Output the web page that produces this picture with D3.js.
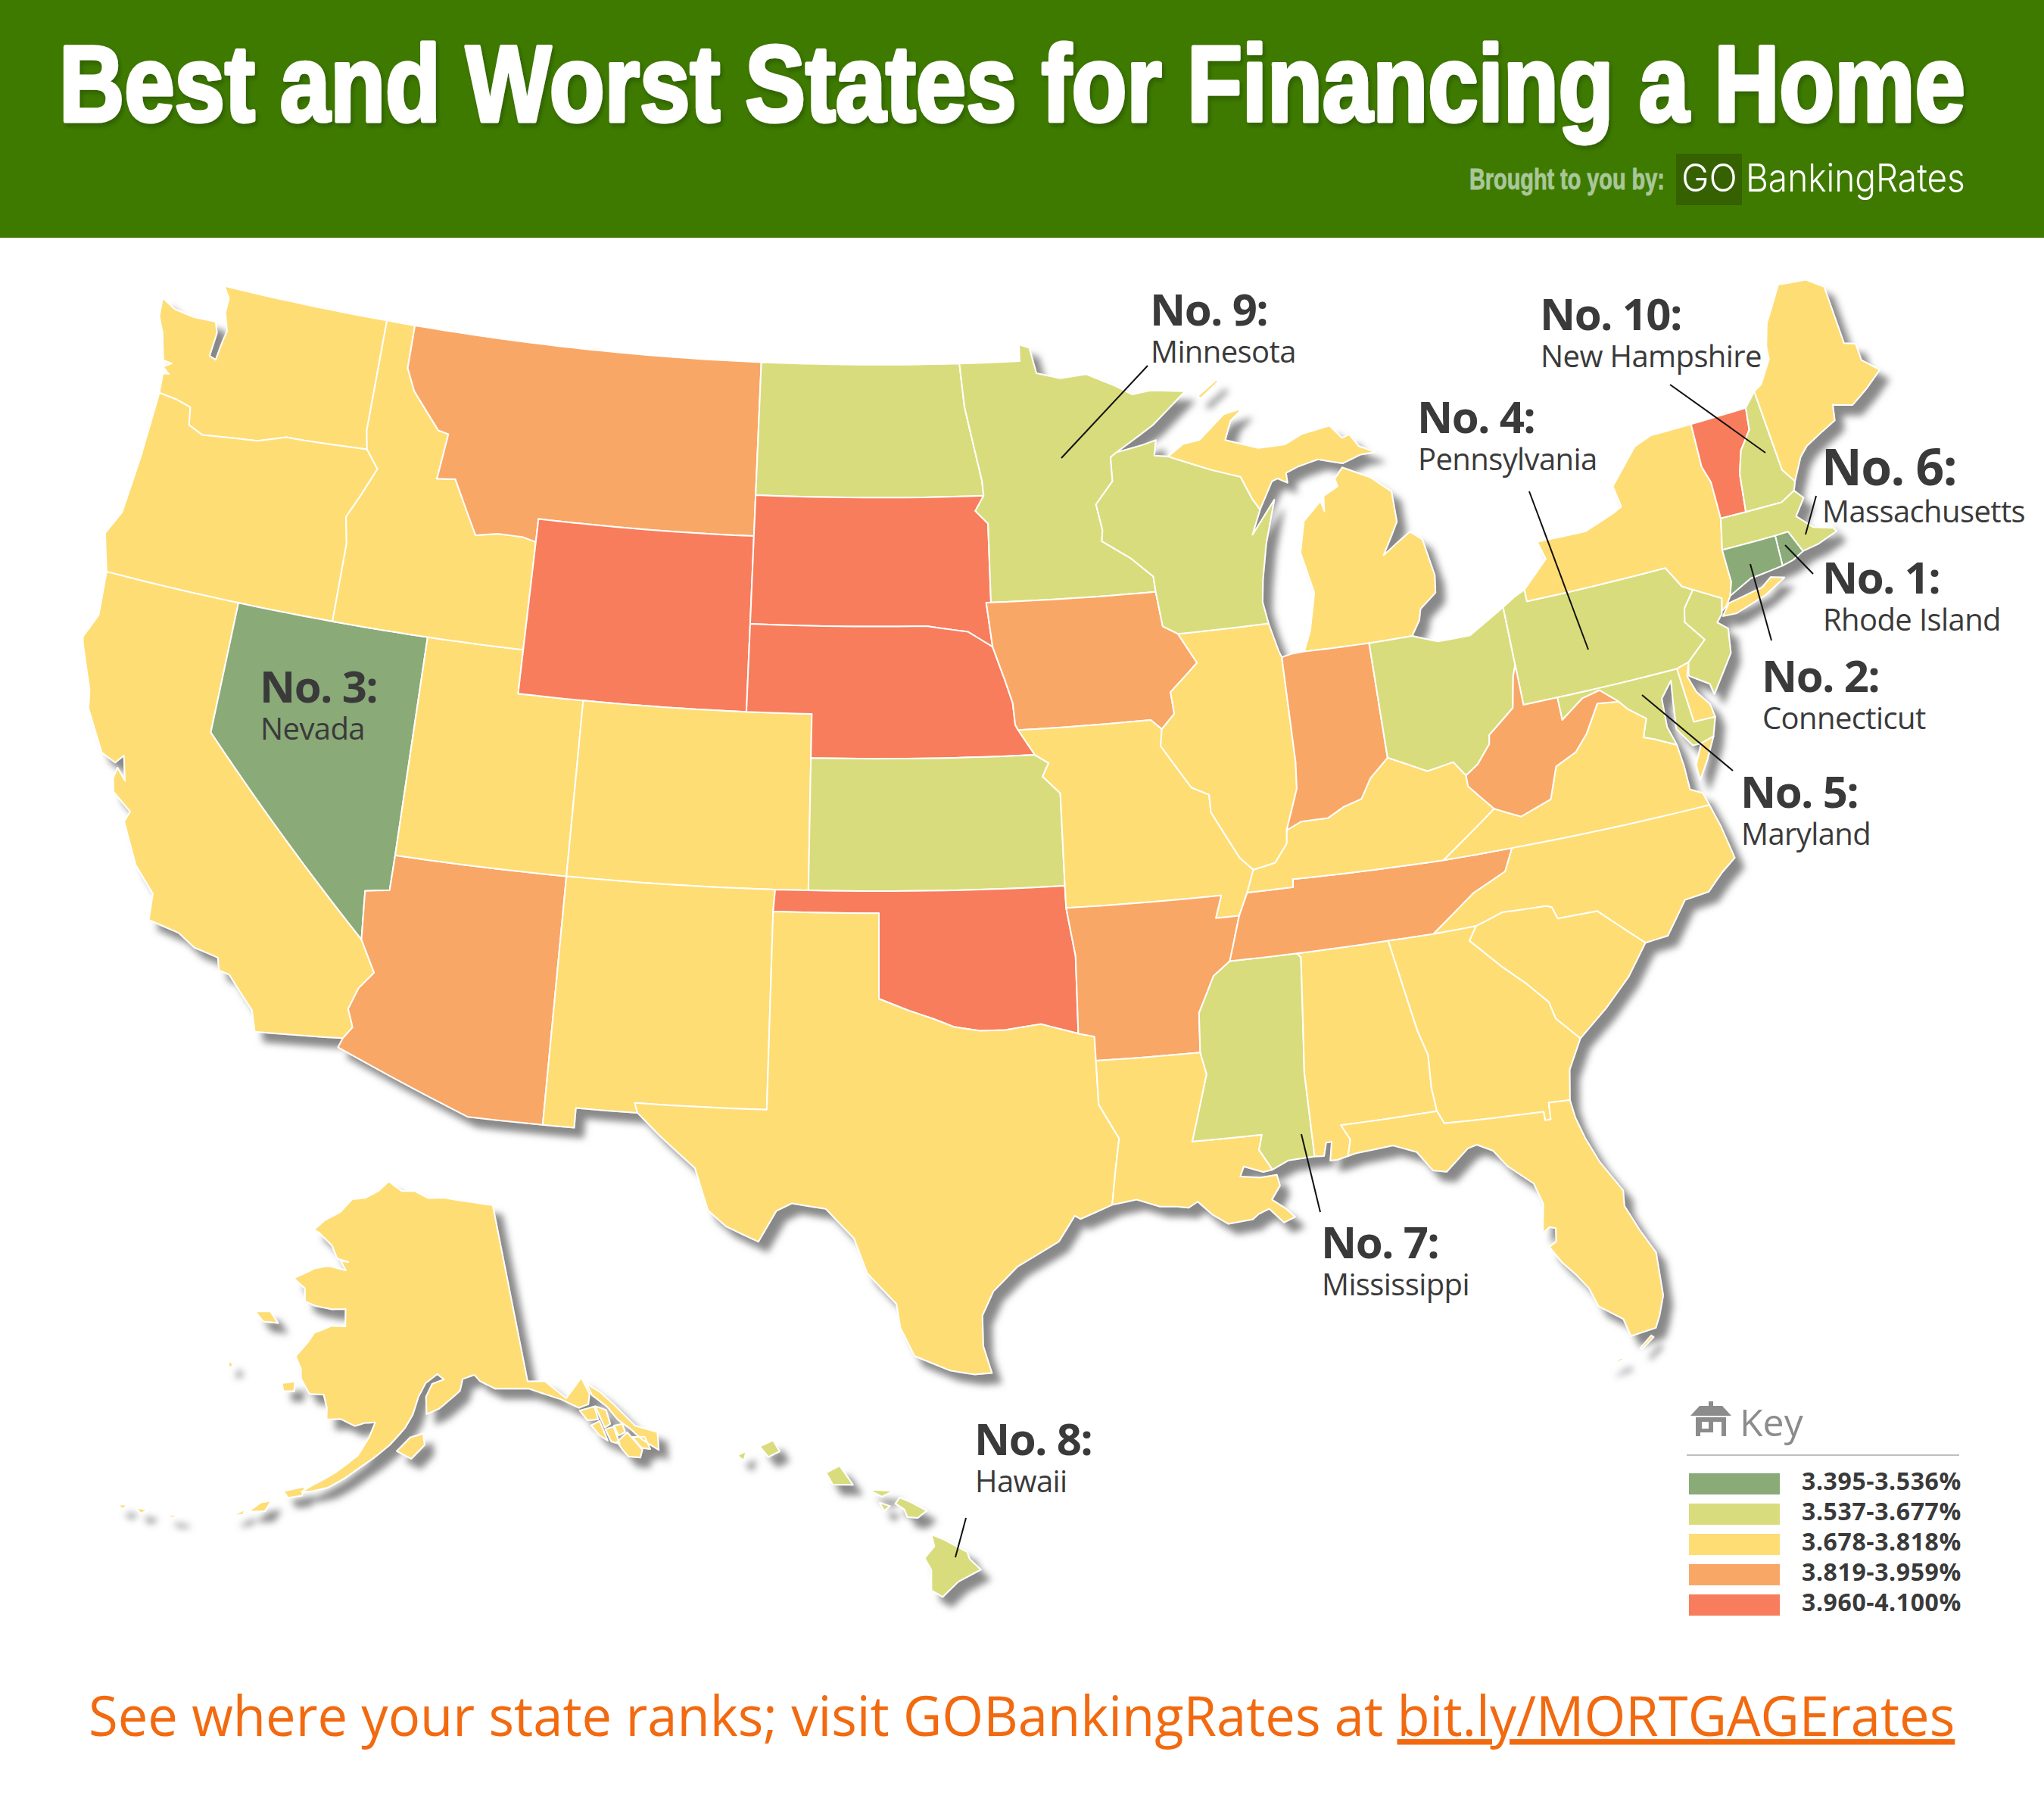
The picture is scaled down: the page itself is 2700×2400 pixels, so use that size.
<!DOCTYPE html>
<html><head><meta charset="utf-8">
<script src="https://cdnjs.cloudflare.com/ajax/libs/d3/7.8.5/d3.min.js"></script>
<style>html,body{margin:0;padding:0;background:#fff}svg{display:block}</style></head>
<body><svg id="c" width="2700" height="2400" viewBox="0 0 2700 2400"></svg>
<script>
// ---- Text and categories
const titleText = "Best and Worst States for Financing a Home";
const legendLabels = ["3.395-3.536%","3.537-3.677%","3.678-3.818%","3.819-3.959%","3.960-4.100%"];
const tierColors = ["#8aaa78","#d9dc7c","#fedd74","#f9a766","#f77d5d"];
const tier0 = ["NV","CT","RI"];
const tier1 = ["ND","MN","WI","KS","OH","PA","NJ","MD","MA","NH","MS","HI"];
const tier3 = ["MT","AZ","IA","AR","TN","IN","WV"];
const tier4 = ["WY","SD","NE","OK","VT"];
const rankNumbers = ["No. 1:","No. 2:","No. 3:","No. 4:","No. 5:","No. 6:","No. 7:","No. 8:","No. 9:","No. 10:"];
const rankStates = ["Rhode Island","Connecticut","Nevada","Pennsylvania","Maryland","Massachusetts","Mississippi","Hawaii","Minnesota","New Hampshire"];

// ---- State outlines, read as [longitude, latitude]
const WA=[[[-124.7,48.38],[-124.2,48.2],[-123.5,48.13],[-122.75,48.15],[-122.62,47.9],[-122.68,47.35],[-122.45,47.3],[-122.38,47.7],[-122.3,48],[-122.5,48.4],[-122.5,48.75],[-122.75,49],[-117.03,49],[-117.04,46.42],[-116.92,46],[-119,45.93],[-119.6,45.92],[-120.5,45.7],[-121.2,45.65],[-122.3,45.55],[-122.8,45.7],[-122.9,46.1],[-123.4,46.2],[-124,46.25],[-124.05,46.7],[-123.85,46.72],[-124.1,46.85],[-123.85,46.97],[-124.15,47],[-124.4,47.6],[-124.65,47.95]]];
const OR=[[[-124,46.25],[-123.4,46.2],[-122.9,46.1],[-122.8,45.7],[-122.3,45.55],[-121.2,45.65],[-120.5,45.7],[-119.6,45.92],[-119,45.93],[-116.92,46],[-116.47,45.6],[-116.85,44.95],[-117.2,44.4],[-117.03,43.8],[-117.03,42],[-120,42],[-124.2,42],[-124.55,42.84],[-124.2,43.4],[-124.07,44.7]]];
const CA=[[[-124.2,42],[-120,42],[-120,39],[-114.63,35],[-114.14,34.3],[-114.5,33.9],[-114.7,33.4],[-114.5,33],[-114.72,32.72],[-117.12,32.53],[-117.3,33],[-118.1,33.7],[-118.4,33.75],[-118.5,34.03],[-119.2,34.15],[-119.7,34.4],[-120.6,34.55],[-120.65,35.15],[-121.3,35.7],[-121.9,36.6],[-121.8,36.85],[-122.4,37.2],[-122.5,37.5],[-122.45,37.75],[-122.15,37.5],[-122.35,38.05],[-122.55,37.85],[-123,38],[-123.7,38.9],[-123.8,39.3],[-124.35,40.3],[-124.4,40.44],[-124.1,41]]];
const NV=[[[-120,42],[-114.04,42],[-114.04,37],[-114.05,36.2],[-114.74,36.1],[-114.63,35],[-120,39]]];
const AZ=[[[-114.63,35],[-114.74,36.1],[-114.05,36.2],[-114.04,37],[-109.05,37],[-109.05,31.33],[-111.07,31.33],[-114.81,32.5],[-114.72,32.72],[-114.5,33],[-114.7,33.4],[-114.5,33.9],[-114.14,34.3]]];
const UT=[[[-114.04,42],[-111.05,42],[-111.05,41],[-109.05,41],[-109.05,37],[-114.04,37]]];
const ID=[[[-117.03,49],[-116.05,49],[-116.05,48],[-115.7,47.5],[-114.7,46.7],[-114.35,46.65],[-114.5,45.6],[-113.9,45.65],[-113.45,45.05],[-113,44.45],[-112.3,44.55],[-111.5,44.55],[-111.05,44.47],[-111.05,42],[-114.04,42],[-117.03,42],[-117.03,43.8],[-117.2,44.4],[-116.85,44.95],[-116.47,45.6],[-116.92,46],[-117.04,46.42]]];
const MT=[[[-116.05,49],[-104.05,49],[-104.05,45.94],[-104.05,45],[-111.05,45],[-111.05,44.47],[-111.5,44.55],[-112.3,44.55],[-113,44.45],[-113.45,45.05],[-113.9,45.65],[-114.5,45.6],[-114.35,46.65],[-114.7,46.7],[-115.7,47.5],[-116.05,48]]];
const WY=[[[-111.05,45],[-104.05,45],[-104.05,43],[-104.05,41],[-109.05,41],[-111.05,41]]];
const CO=[[[-109.05,41],[-104.05,41],[-102.05,41],[-102.05,40],[-102.04,37],[-103,37],[-109.05,37]]];
const NM=[[[-109.05,37],[-103,37],[-103.04,36.5],[-103.04,32],[-106.62,32],[-106.53,31.78],[-108.2,31.78],[-108.2,31.33],[-109.05,31.33]]];
const ND=[[[-104.05,49],[-97.23,49],[-97.1,48],[-96.6,46.3],[-96.56,45.94],[-104.05,45.94]]];
const SD=[[[-104.05,45.94],[-96.56,45.94],[-96.85,45.6],[-96.45,45.3],[-96.45,43.5],[-96.6,43.5],[-96.45,42.49],[-97.2,42.85],[-98.5,43],[-104.05,43],[-104.05,45]]];
const NE=[[[-104.05,43],[-98.5,43],[-97.2,42.85],[-96.45,42.49],[-96.1,41.7],[-95.9,41.2],[-95.85,40.7],[-95.77,40.58],[-95.3,40],[-102.05,40],[-102.05,41],[-104.05,41]]];
const KS=[[[-102.05,40],[-95.3,40],[-94.9,39.8],[-95.1,39.5],[-94.6,39.1],[-94.62,37],[-102.04,37]]];
const OK=[[[-103,37],[-102.04,37],[-94.62,37],[-94.62,36.5],[-94.43,35.4],[-94.48,33.64],[-95.5,33.9],[-96.5,33.8],[-97.2,33.8],[-97.9,33.9],[-98.5,34.1],[-99.2,34.3],[-100,34.56],[-100,36.5],[-103.04,36.5]]];
const TX=[[[-103.04,36.5],[-100,36.5],[-100,34.56],[-99.2,34.3],[-98.5,34.1],[-97.9,33.9],[-97.2,33.8],[-96.5,33.8],[-95.5,33.9],[-94.48,33.64],[-94.04,33.55],[-94.04,33],[-94.04,32],[-93.55,31.2],[-93.7,30.5],[-93.85,29.7],[-94.7,29.42],[-94.85,29.5],[-95.3,28.93],[-96.4,28.4],[-97.05,27.85],[-97.35,27.3],[-97.35,26.6],[-97.15,25.97],[-97.6,25.95],[-98.2,26.05],[-99.1,26.4],[-99.45,27.05],[-99.55,27.6],[-100.3,28.3],[-100.65,29.1],[-101.4,29.77],[-102.3,29.88],[-102.7,29.7],[-103.15,28.98],[-104,29.3],[-104.5,29.65],[-104.9,30.6],[-105.9,31.3],[-106.53,31.78],[-106.62,32],[-103.04,32]]];
const MN=[[[-97.23,49],[-95.15,49],[-95.15,49.38],[-94.8,49.3],[-94.6,48.7],[-93.8,48.55],[-92.9,48.6],[-92,48.3],[-91.4,48.05],[-90.75,48.1],[-89.6,48],[-90.8,47.3],[-92.1,46.75],[-92.3,46.65],[-92.3,46.1],[-92.9,45.6],[-92.75,45],[-92.8,44.75],[-91.9,44.3],[-91.25,43.85],[-91.22,43.5],[-96.45,43.5],[-96.45,45.3],[-96.85,45.6],[-96.56,45.94],[-96.6,46.3],[-97.1,48]]];
const IA=[[[-96.6,43.5],[-96.45,43.5],[-91.22,43.5],[-91.1,42.7],[-90.65,42.5],[-90.15,41.8],[-91.05,41.2],[-91,40.7],[-91.42,40.38],[-91.73,40.61],[-95.77,40.58],[-95.85,40.7],[-95.9,41.2],[-96.1,41.7],[-96.45,42.49]]];
const MO=[[[-95.77,40.58],[-91.73,40.61],[-91.42,40.38],[-91.5,40],[-90.7,39],[-90.2,38.8],[-90.2,38.4],[-89.5,37.3],[-89.15,37],[-89.4,36.5],[-89.7,36],[-90.37,36],[-90.15,36.5],[-94.62,36.5],[-94.62,37],[-94.6,39.1],[-95.1,39.5],[-94.9,39.8],[-95.3,40]]];
const AR=[[[-94.62,36.5],[-90.15,36.5],[-90.37,36],[-89.7,36],[-90.1,35],[-90.6,34.7],[-91.1,33.9],[-91.17,33],[-94.04,33],[-94.04,33.55],[-94.48,33.64],[-94.43,35.4]]];
const LA=[[[-94.04,33],[-91.17,33],[-91.05,32.5],[-91.6,31],[-89.73,31],[-89.85,30.66],[-89.55,30.18],[-89.8,30.15],[-90.3,30.32],[-90.42,30.1],[-89.9,30.03],[-89.45,30.05],[-89.4,29.8],[-89.65,29.5],[-89.3,29.25],[-89.1,29.05],[-89.4,28.95],[-89.75,29.3],[-90.05,29.2],[-90.2,29.1],[-90.85,29.05],[-91.25,29.3],[-91.6,29.62],[-91.85,29.5],[-92.15,29.55],[-92.6,29.58],[-93.2,29.78],[-93.85,29.7],[-93.7,30.5],[-93.55,31.2],[-94.04,32]]];
const MS=[[[-90.1,35],[-88.2,35],[-88.1,34.9],[-88.4,32.3],[-88.4,30.37],[-89.1,30.35],[-89.55,30.18],[-89.85,30.66],[-89.73,31],[-91.6,31],[-91.05,32.5],[-91.17,33],[-91.1,33.9],[-90.6,34.7]]];
const AL=[[[-88.2,35],[-85.6,35],[-85.18,32.87],[-85,32.3],[-85.05,31.55],[-85,31],[-87.6,31],[-87.4,30.65],[-87.52,30.28],[-87.8,30.23],[-88,30.23],[-87.9,30.65],[-88.05,30.65],[-88.15,30.35],[-88.4,30.37],[-88.4,32.3],[-88.1,34.9]]];
const TN=[[[-90.1,35],[-89.7,36],[-89.4,36.5],[-88.07,36.5],[-88.05,36.68],[-83.68,36.6],[-81.68,36.59],[-82,36.1],[-83,35.75],[-84.32,34.99],[-85.6,35],[-88.2,35]]];
const KY=[[[-89.4,36.5],[-89.15,37],[-88.5,37.1],[-88.1,37.5],[-88.05,37.8],[-87.6,37.95],[-86.8,37.95],[-86.3,38.15],[-85.75,38.27],[-85.4,38.7],[-84.8,39.1],[-84.3,38.9],[-83.7,38.65],[-82.9,38.75],[-82.6,38.4],[-82.6,38.15],[-81.97,37.54],[-83.68,36.6],[-88.05,36.68],[-88.07,36.5]]];
const IL=[[[-91.42,40.38],[-91,40.7],[-91.05,41.2],[-90.15,41.8],[-90.65,42.5],[-87.8,42.5],[-87.6,41.85],[-87.53,41.7],[-87.53,39.3],[-87.6,38.7],[-88.05,37.8],[-88.1,37.5],[-88.5,37.1],[-89.15,37],[-89.5,37.3],[-90.2,38.4],[-90.2,38.8],[-90.7,39],[-91.5,40]]];
const WI=[[[-92.1,46.75],[-91.2,46.87],[-90.75,46.95],[-90.85,46.6],[-90.4,46.55],[-89,46.13],[-88.1,45.9],[-87.8,45.35],[-87.6,45.1],[-87.95,44.55],[-87.6,44.85],[-87.1,45.28],[-87.3,44.85],[-87.55,44.3],[-87.8,43.5],[-87.9,43],[-87.8,42.5],[-90.65,42.5],[-91.1,42.7],[-91.22,43.5],[-91.25,43.85],[-91.9,44.3],[-92.8,44.75],[-92.75,45],[-92.9,45.6],[-92.3,46.1],[-92.3,46.65]]];
const MI=[[[-86.82,41.76],[-84.8,41.73],[-83.45,41.73],[-83.15,42.05],[-83.05,42.3],[-82.5,42.6],[-82.42,43],[-82.6,43.85],[-82.95,44.07],[-83.35,43.9],[-83.9,43.65],[-83.55,44.05],[-83.3,44.35],[-83.3,45.05],[-83.9,45.45],[-84.75,45.78],[-85.05,45.55],[-85,45.37],[-85.5,45.2],[-85.55,44.85],[-85.62,45.1],[-86.25,44.7],[-86.5,44],[-86.25,43.05],[-86.55,42.2]],
 [[-90.4,46.55],[-89,46.13],[-88.1,45.9],[-87.8,45.35],[-87.6,45.1],[-87.1,45.7],[-86.9,45.75],[-86.6,45.62],[-86.6,45.85],[-86.2,45.95],[-85.5,46.05],[-84.72,45.87],[-84.1,46],[-83.6,46],[-84.1,46.2],[-84.35,46.5],[-84.6,46.45],[-84.95,46.77],[-85.9,46.68],[-86.5,46.5],[-87.4,46.5],[-88.45,46.78],[-88.2,47.2],[-87.75,47.45],[-88.4,47.37],[-89.3,46.85],[-89.85,46.8]],
 [[-89.2,47.85],[-88.5,48.18],[-88.45,48.13],[-89.1,47.8]]];
const IN=[[[-87.53,41.7],[-87.2,41.75],[-86.82,41.76],[-84.8,41.73],[-84.8,39.1],[-85.4,38.7],[-85.75,38.27],[-86.3,38.15],[-86.8,37.95],[-87.6,37.95],[-88.05,37.8],[-87.6,38.7],[-87.53,39.3]]];
const OH=[[[-84.8,41.73],[-83.45,41.73],[-82.7,41.5],[-81.7,41.5],[-80.52,41.98],[-80.52,40.64],[-80.65,40.4],[-80.85,39.7],[-81.7,39.2],[-81.75,39],[-82.2,38.6],[-82.6,38.4],[-82.9,38.75],[-83.7,38.65],[-84.3,38.9],[-84.8,39.1]]];
const PA=[[[-80.52,41.98],[-80.08,42.17],[-79.76,42.27],[-79.76,42],[-75.35,42],[-75,41.5],[-74.7,41.36],[-75.1,41],[-75.2,40.7],[-74.75,40.2],[-75.4,39.8],[-75.79,39.72],[-79.48,39.72],[-80.52,39.72],[-80.52,40.64]]];
const NY=[[[-79.76,42.27],[-78.9,42.85],[-79.05,43.27],[-77.5,43.25],[-76.5,43.5],[-76.2,43.6],[-76.3,44.1],[-75.3,44.85],[-74.7,45],[-73.35,45],[-73.4,44],[-73.25,43.6],[-73.27,42.75],[-73.5,42.05],[-73.5,41.3],[-73.65,41],[-73.85,40.8],[-74.02,40.72],[-73.92,41],[-74.7,41.36],[-75,41.5],[-75.35,42],[-79.76,42]],[[-74.03,40.6],[-73.75,40.85],[-72.65,40.98],[-72.3,41.15],[-71.9,41.05],[-72.6,40.8],[-73.6,40.58]]];
const NJ=[[[-74.7,41.36],[-73.92,41],[-74.05,40.65],[-74.25,40.5],[-73.98,40.3],[-74.1,39.75],[-74.9,38.95],[-74.95,39.2],[-75.5,39.5],[-75.4,39.8],[-74.75,40.2],[-75.2,40.7],[-75.1,41]]];
const DE=[[[-75.79,39.72],[-75.4,39.8],[-75.55,39.5],[-75.4,39.1],[-75.1,38.75],[-75.05,38.45],[-75.7,38.46]]];
const MD=[[[-79.48,39.72],[-75.79,39.72],[-75.7,38.46],[-75.05,38.45],[-75.25,38.03],[-75.65,37.95],[-75.9,37.95],[-76.25,38.4],[-76.15,39],[-76.05,39.5],[-76.45,39.15],[-76.5,38.5],[-76.35,38.05],[-76.95,38.3],[-77.25,38.4],[-77.04,38.8],[-77.5,39.1],[-77.72,39.32],[-78.2,39.67],[-78.75,39.58],[-79.48,39.2]]];
const VA=[[[-83.68,36.6],[-81.97,37.54],[-81.25,37.25],[-80.3,37.5],[-79.95,38.2],[-79.3,38.42],[-78.87,38.77],[-78.35,39.39],[-77.72,39.32],[-77.5,39.1],[-77.04,38.8],[-77.25,38.4],[-76.95,38.3],[-76.35,38.05],[-76.3,37.55],[-76.3,37],[-75.97,36.85],[-75.87,36.55],[-81.68,36.59]],[[-75.65,37.95],[-75.25,38.03],[-75.6,37.55],[-75.95,37.15],[-75.95,37.5]]];
const WV=[[[-82.6,38.15],[-82.6,38.4],[-82.2,38.6],[-81.75,39],[-81.7,39.2],[-80.85,39.7],[-80.65,40.4],[-80.52,40.64],[-80.52,39.72],[-79.48,39.72],[-79.48,39.2],[-78.75,39.58],[-78.2,39.67],[-77.72,39.32],[-78.35,39.39],[-78.87,38.77],[-79.3,38.42],[-79.95,38.2],[-80.3,37.5],[-81.25,37.25],[-81.97,37.54]]];
const NC=[[[-84.32,34.99],[-83,35.75],[-82,36.1],[-81.68,36.59],[-75.87,36.55],[-75.7,36],[-75.55,35.25],[-76,35],[-76.5,34.65],[-77.2,34.6],[-77.9,33.9],[-78.55,33.86],[-79.67,34.8],[-80.8,34.82],[-80.9,35.1],[-81.05,35.15],[-82.3,35.2],[-83.1,35]]];
const SC=[[[-83.1,35],[-82.3,35.2],[-81.05,35.15],[-80.9,35.1],[-80.8,34.82],[-79.67,34.8],[-78.55,33.86],[-79.2,33.2],[-80,32.6],[-80.85,32.05],[-81.4,32.6],[-81.5,33],[-82,33.5],[-82.6,34],[-83.35,34.7]]];
const GA=[[[-85.6,35],[-84.32,34.99],[-83.1,35],[-83.35,34.7],[-82.6,34],[-82,33.5],[-81.5,33],[-81.4,32.6],[-80.85,32.05],[-81.3,31.4],[-81.45,30.72],[-82.02,30.75],[-82.05,30.37],[-82.2,30.37],[-82.2,30.57],[-84.86,30.7],[-85,31],[-85.05,31.55],[-85,32.3],[-85.18,32.87]]];
const FL=[[[-87.6,31],[-85,31],[-84.86,30.7],[-82.2,30.57],[-82.2,30.37],[-82.05,30.37],[-82.02,30.75],[-81.45,30.72],[-81.4,30.3],[-81.25,29.8],[-81,29.2],[-80.55,28.45],[-80.6,28.1],[-80.35,27.5],[-80.05,26.9],[-80.1,25.9],[-80.3,25.45],[-80.45,25.2],[-81.1,25.13],[-81.2,25.55],[-81.75,25.95],[-81.9,26.4],[-82.15,26.75],[-82.45,27.1],[-82.7,27.5],[-82.5,27.6],[-82.45,27.9],[-82.6,27.95],[-82.8,27.85],[-82.65,28.5],[-82.8,29],[-83.4,29.5],[-83.7,29.9],[-84.1,30.1],[-84.35,30.05],[-85,29.6],[-85.35,29.68],[-85.7,30.15],[-86.3,30.38],[-87.3,30.32],[-87.52,30.28],[-87.4,30.65]],
 [[-80.55,25],[-80.9,24.78],[-80.92,24.82],[-80.6,25.05]],[[-81.8,24.55],[-81.4,24.63],[-81.45,24.68]]];
const VT=[[[-73.35,45],[-71.5,45],[-71.6,44.5],[-72.05,44.1],[-72.3,43.6],[-72.46,42.73],[-73.27,42.75],[-73.25,43.6],[-73.4,44]]];
const NH=[[[-71.5,45],[-71.08,45.3],[-70.98,43.4],[-70.7,43.07],[-70.82,42.87],[-71.3,42.7],[-72.46,42.73],[-72.3,43.6],[-72.05,44.1],[-71.6,44.5]]];
const ME=[[[-71.08,45.3],[-70.8,45.4],[-70.3,45.9],[-70.25,46.2],[-70,46.7],[-69.23,47.46],[-69,47.43],[-68.3,47.36],[-67.8,47.07],[-67.8,45.7],[-67.45,45.6],[-67.45,45.2],[-67,44.85],[-67.6,44.55],[-68.2,44.3],[-68.8,44.45],[-68.9,44.1],[-69.4,43.95],[-70,43.75],[-70.3,43.55],[-70.7,43.07],[-70.98,43.4]]];
const MA=[[[-73.5,42.05],[-73.27,42.75],[-72.46,42.73],[-71.3,42.7],[-70.82,42.87],[-70.6,42.65],[-71,42.3],[-70.6,41.95],[-70.05,41.8],[-70.2,42.08],[-69.95,41.7],[-70.6,41.55],[-71.12,41.5],[-71.38,42.02],[-71.8,42.02]]];
const RI=[[[-71.8,42.02],[-71.38,42.02],[-71.12,41.5],[-71.5,41.37],[-71.85,41.32]]];
const CT=[[[-73.5,42.05],[-71.8,42.02],[-71.85,41.32],[-72.9,41.25],[-73.65,41],[-73.5,41.3]]];
const AK=[[[-141,69.65],[-144,70],[-148,70.4],[-150.5,70.45],[-152.5,70.85],[-154.5,70.85],[-156.6,71.35],[-158,70.85],[-160,70.4],[-162,70.25],[-163.5,69.5],[-165.5,68.95],[-166.8,68.35],[-166,68.25],[-164,67.7],[-163,67.05],[-161.5,66.95],[-162.5,66.95],[-161.7,66.5],[-163.7,66.6],[-164.5,66.55],[-165.8,66.35],[-168.1,65.65],[-166.5,65.25],[-166.2,64.6],[-164.9,64.45],[-162.8,64.4],[-161.2,64.5],[-161,63.6],[-162.6,63.55],[-164.5,63.05],[-165,62.55],[-166.1,61.7],[-165.3,61.1],[-165.1,60.6],[-164,59.9],[-162.5,59.95],[-162,59.3],[-161.9,58.7],[-160.5,58.8],[-159,58.5],[-158,58.7],[-157,58.75],[-157.5,58],[-158.5,57],[-160.5,56],[-162.5,55.2],[-163.4,54.8],[-162.5,54.9],[-161,55.2],[-159.5,55.8],[-158.2,56.4],[-157,56.9],[-155.5,57.6],[-154,58.5],[-153.2,59.2],[-152.6,60.1],[-151.8,60.8],[-150.5,61.25],[-149.8,60.95],[-151.1,60.75],[-151.8,60.1],[-151.8,59.2],[-150.5,59.45],[-149,60],[-148.2,60.3],[-147.8,60.9],[-146.5,61.05],[-146,60.7],[-144.5,60.2],[-142,60],[-141,59.9],[-139.8,59.55],[-138,59],[-136.5,58.35],[-135.5,58.4],[-135.1,58.9],[-135.4,59.7],[-135.1,59.5],[-134.9,58.8],[-133.8,58],[-133.2,57.2],[-132.3,56.5],[-131.6,55.8],[-130.5,55],[-130.05,55.9],[-131.8,56.6],[-133.1,58],[-134,58.8],[-135,59.4],[-135.5,59.8],[-137.5,59],[-139.2,60.1],[-141,60.3]],
 [[-154.8,57.3],[-153.5,58],[-152.2,58.2],[-152.1,57.6],[-153.4,56.9]],[[-167,60.2],[-165.7,60.4],[-165.6,59.9],[-166.7,59.8]],[[-171.7,63.5],[-170,63.7],[-168.8,63.2],[-170.5,63.1]],
 [[-165,54.7],[-163.1,55.1],[-163.3,54.6],[-164.5,54.4]],[[-166.8,53.9],[-165.9,54.1],[-166.3,53.5],[-167.7,53.3]],[[-169,52.9],[-168,53.4],[-168.1,53.1]],[[-174.5,52.1],[-173.2,52.2],[-173.9,52]],[[-177,51.9],[-176,52],[-176.5,51.7]],[[-178.6,51.7],[-177.8,51.9],[-178,51.6]],[[-173,60.7],[-172.4,60.5],[-172.9,60.3]],
 [[-136.5,58.2],[-135,58.2],[-135,57.5],[-136,57.6]],[[-135.8,57.3],[-134.9,57.4],[-134.7,56.3],[-135.3,56.7]],[[-134.9,58.2],[-134,57.85],[-134,57.1],[-134.6,57]],[[-134.6,56.9],[-133.8,56.9],[-133.7,55.95],[-134.4,56.2]],[[-133.7,56.95],[-132.9,56.9],[-132.9,56.45],[-133.6,56.4]],[[-133.9,56.1],[-132.7,56.4],[-131.9,55.3],[-132.3,54.95],[-133.3,55.2],[-133.6,55.6]],[[-132.4,56.1],[-131.3,55.9],[-131.2,55.2],[-131.9,55.4]]];
const HI=[[[-155.9,20.25],[-155.6,20.13],[-155.1,19.87],[-155.05,19.73],[-154.8,19.5],[-155.3,19.25],[-155.65,18.93],[-155.9,19.07],[-155.9,19.5],[-156.05,19.75],[-155.83,20]],[[-156.7,20.9],[-156.6,21.03],[-156.35,20.93],[-156,20.75],[-156.2,20.6],[-156.43,20.62],[-156.5,20.78]],[[-157.3,21.2],[-156.75,21.17],[-157,21.05]],[[-157.05,20.92],[-156.82,20.85],[-156.95,20.75]],[[-158.25,21.55],[-157.95,21.7],[-157.65,21.3],[-158.1,21.3]],[[-159.75,22.1],[-159.45,22.23],[-159.3,22],[-159.55,21.88]],[[-160.25,21.9],[-160.05,22],[-160.1,21.8]]];

const outlines = {WA,OR,CA,NV,AZ,UT,ID,MT,WY,CO,NM,ND,SD,NE,KS,OK,TX,MN,IA,MO,AR,LA,MS,AL,TN,KY,IL,WI,MI,IN,OH,PA,NY,NJ,DE,MD,VA,WV,NC,SC,GA,FL,VT,NH,ME,MA,RI,CT,AK,HI};

// ---- Layout
const svg = d3.select("#c");
const lowerP = d3.geoConicEqualArea().parallels([29.5,45.5]).rotate([100,0]).center([0,0]).scale(3309).translate([1161,3216]);
const akP = d3.geoConicEqualArea().parallels([55,65]).rotate([154,0]).center([0,0]).scale(1455).translate([535,3234]);
const hiP = d3.geoConicEqualArea().parallels([8,18]).rotate([157,0]).center([0,0]).scale(3600).translate([1165,3296]);
const paths = {lower:d3.geoPath(lowerP), AK:d3.geoPath(akP), HI:d3.geoPath(hiP)};

function densify(ring){
  const out=[];
  for(let i=0;i<ring.length;i++){
    const a=ring[i], b=ring[(i+1)%ring.length];
    const n=Math.max(1,Math.ceil(Math.max(Math.abs(b[0]-a[0]),Math.abs(b[1]-a[1]))/0.5));
    for(let j=0;j<n;j++) out.push([a[0]+(b[0]-a[0])*j/n,a[1]+(b[1]-a[1])*j/n]);
  }
  out.push(out[0].slice());
  return out;
}
function feature(code){
  const polys=outlines[code].map(r=>{
    let ring=densify(r);
    if(d3.geoArea({type:"Polygon",coordinates:[ring]})>2*Math.PI) ring=ring.slice().reverse();
    return [ring];
  });
  return {type:"Feature",id:code,properties:{},geometry:{type:"MultiPolygon",coordinates:polys}};
}
function tierOf(c){return tier0.includes(c)?0:tier1.includes(c)?1:tier3.includes(c)?3:tier4.includes(c)?4:2;}
// Squeeze a text to a measured width through a transform, so its real box matches what is drawn
function fitText(sel,x,y,width){
  const w=sel.node().getComputedTextLength();
  sel.attr("transform",`translate(${x},${y}) scale(${width/w},1)`);
  return sel;
}

const defs=svg.append("defs");
const f=defs.append("filter").attr("id","shadow").attr("x","-5%").attr("y","-5%").attr("width","115%").attr("height","115%");
f.append("feDropShadow").attr("dx",12).attr("dy",13).attr("stdDeviation",5).attr("flood-color","#7c7c7c").attr("flood-opacity",0.9);
const tf=defs.append("filter").attr("id","tshadow").attr("x","-2%").attr("y","-10%").attr("width","104%").attr("height","125%");
tf.append("feDropShadow").attr("dx",3).attr("dy",4).attr("stdDeviation",3).attr("flood-color","#1d3d00").attr("flood-opacity",0.45);

// Header
svg.append("rect").attr("width",2700).attr("height",2400).attr("fill","#fff");
svg.append("rect").attr("width",2700).attr("height",314).attr("fill","#3f7a00");
fitText(svg.append("text").text(titleText)
  .attr("font-family","'Liberation Sans Narrow','Liberation Sans',sans-serif").attr("font-weight",700).attr("font-size",142)
  .attr("fill","#fff").attr("stroke","#fff").attr("stroke-width",5).attr("stroke-linejoin","round").attr("filter","url(#tshadow)"),78,160,2518);
fitText(svg.append("text").text("Brought to you by:")
  .attr("font-family","'Liberation Sans Narrow','Liberation Sans',sans-serif").attr("font-weight",700).attr("font-size",38).attr("fill","#a9c79a").attr("stroke","#a9c79a").attr("stroke-width",0.9),1941,250,258);
svg.append("rect").attr("x",2214).attr("y",203).attr("width",87).attr("height",68).attr("fill","#356100");
fitText(svg.append("text").text("GO")
  .attr("font-family","Inter,Roboto,sans-serif").attr("font-weight",300).attr("font-size",51).attr("fill","#fff"),2221,253,74);
fitText(svg.append("text").text("BankingRates")
  .attr("font-family","Inter,Roboto,sans-serif").attr("font-weight",300).attr("font-size",51).attr("fill","#fff"),2306,253,290);

// Map
const g=svg.append("g").attr("filter","url(#shadow)");
g.selectAll("path").data(Object.keys(outlines).map(feature)).join("path")
  .attr("d",d=>(paths[d.id]||paths.lower)(d))
  .attr("fill",d=>tierColors[tierOf(d.id)])
  .attr("stroke","#fff").attr("stroke-width",2).attr("stroke-linejoin","round");

// Leader lines
const leaderLines=[[2358,720,2395,758],[2312,745,2340,846],[2020,649,2098,858],[2169,918,2289,1018],[2399,655,2385,706],[1719,1498,1744,1601],[1276,2005,1262,2057],[1516,483,1402,605],[2206,508,2332,598]];
svg.append("g").selectAll("line").data(leaderLines).join("line")
  .attr("x1",d=>d[0]).attr("y1",d=>d[1]).attr("x2",d=>d[2]).attr("y2",d=>d[3]).attr("stroke","#111").attr("stroke-width",2);

// Rank labels
const labelX=[2407,2327,343,1872,2299,2406,1745,1287,1519,2034];
const labelY=[784,914,928,572,1067,641,1662,1922,430,436];
const labelSize=[58,58,58,58,58,66,58,58,58,58];
const labelG=svg.append("g").attr("font-family","'Open Sans',sans-serif").attr("fill","#3a3a3a");
rankNumbers.forEach((n,i)=>{
  labelG.append("text").text(n).attr("x",labelX[i]).attr("y",labelY[i]).attr("font-weight",700).attr("font-size",labelSize[i]).attr("letter-spacing",-1.5);
  labelG.append("text").text(rankStates[i]).attr("x",labelX[i]+1).attr("y",labelY[i]+49).attr("font-size",40).attr("letter-spacing",-0.6);
});

// Legend
const key=svg.append("g");
key.append("path").attr("transform","translate(2233,1851)").attr("fill","#8c8c8c")
  .attr("d","M0 19 L12 6 L24 6 L24 0 L30 0 L30 6 L42 6 L54 19 Z M7 21 H47 V46 H41 V27 H30 V41 H13 V46 H7 Z M15 27 V36 H24 V27 Z");
key.append("text").text("Key").attr("x",2298).attr("y",1897).attr("font-family","'Open Sans',sans-serif").attr("font-size",50).attr("fill","#8c8c8c");
key.append("line").attr("x1",2228).attr("x2",2588).attr("y1",1922).attr("y2",1922).attr("stroke","#aaa").attr("stroke-width",1.5);
key.selectAll("rect").data(legendLabels).join("rect").attr("x",2231).attr("y",(d,i)=>1946+i*40).attr("width",120).attr("height",28).attr("fill",(d,i)=>tierColors[i]);
key.selectAll("text.k").data(legendLabels).join("text").attr("class","k").text(d=>d).attr("x",2380).attr("y",(d,i)=>1968+i*40)
  .attr("font-family","'Open Sans',sans-serif").attr("font-weight",700).attr("font-size",32).attr("letter-spacing",0.6).attr("fill","#3a3a3a");

// Footer
const foot=svg.append("text").attr("font-family","'Open Sans',sans-serif").attr("font-size",74).attr("fill","#f26a10");
foot.append("tspan").text("See where your state ranks; visit GOBankingRates at ");
foot.append("tspan").text("bit.ly/MORTGAGErates").attr("text-decoration","underline");
fitText(foot,117,2293,2466);
</script></body></html>
